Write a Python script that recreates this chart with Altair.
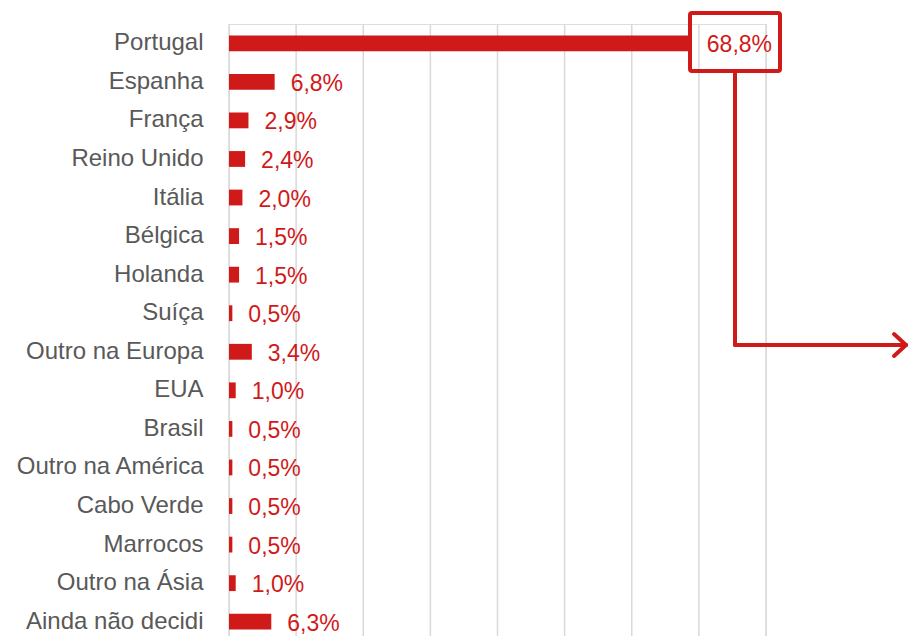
import altair as alt
import pandas as pd

categories = ["Portugal", "Espanha", "França", "Reino Unido", "Itália", "Bélgica",
              "Holanda", "Suíça", "Outro na Europa", "EUA", "Brasil",
              "Outro na América", "Cabo Verde", "Marrocos", "Outro na Ásia",
              "Ainda não decidi"]
values = [68.8, 6.8, 2.9, 2.4, 2.0, 1.5, 1.5, 0.5, 3.4, 1.0, 0.5, 0.5, 0.5, 0.5, 1.0, 6.3]
labels = [f"{v:.1f}%".replace(".", ",") for v in values]
grid_ticks = [0, 10, 20, 30, 40, 50, 60, 70, 80]

df = pd.DataFrame({"cat": categories, "val": values, "lab": labels})
grid_df = pd.DataFrame({"t": grid_ticks})

RED = "#D01A1A"
FONT = "Liberation Sans"

x_scale = alt.Scale(domain=[0, 80], nice=False, zero=True)
y_scale = alt.Scale(domain=categories, range=[0, 617], paddingInner=0.59, paddingOuter=0.295)

grid = alt.Chart(grid_df).mark_rule(color="#D9D9D9", strokeWidth=1.5).encode(
    x=alt.X("t:Q", scale=x_scale, axis=None),
    y=alt.value(0), y2=alt.value(624),
)

base = alt.Chart(df)

bars = base.mark_bar(color=RED).encode(
    x=alt.X("val:Q", scale=x_scale, axis=None),
    y=alt.Y("cat:N", scale=y_scale, sort=categories,
            axis=alt.Axis(title=None, ticks=False, domain=False, grid=False, labelPadding=26,
                          labelFont=FONT, labelFontSize=24, labelColor="#595959",
                          labelLimit=300)),
)

text = base.mark_text(align="left", baseline="alphabetic", dx=16, dy=9,
                      font=FONT, fontSize=23, color=RED).encode(
    x=alt.X("val:Q", scale=x_scale),
    y=alt.Y("cat:N", scale=y_scale, sort=categories),
    text="lab:N",
)

# annotation: box around the Portugal label and bent arrow
box = alt.Chart(pd.DataFrame({"a": [0]})).mark_rect(
    fill=None, stroke=RED, strokeWidth=4, cornerRadius=2).encode(
    x=alt.value(461), x2=alt.value(551), y=alt.value(-11), y2=alt.value(47))

seg = pd.DataFrame({
    "x": [506, 506, 665, 665],
    "x2": [506, 677, 677, 677],
    "y": [49, 321, 310, 332],
    "y2": [321, 321, 321, 321],
})
arrow = alt.Chart(seg).mark_rule(color=RED, strokeWidth=4, strokeCap="round").encode(
    x=alt.X("x:Q", scale=None), x2="x2:Q",
    y=alt.Y("y:Q", scale=None), y2="y2:Q")

chart = alt.layer(grid, bars, text, box, arrow).properties(
    width=537, height=612,
    autosize=alt.AutoSizeParams(type="none"),
    padding={"left": 221, "top": 16, "right": 143, "bottom": 0},
).configure_view(stroke=None).configure(background="white")

chart.save("out.html", embed_options={"renderer": "svg", "actions": False})
